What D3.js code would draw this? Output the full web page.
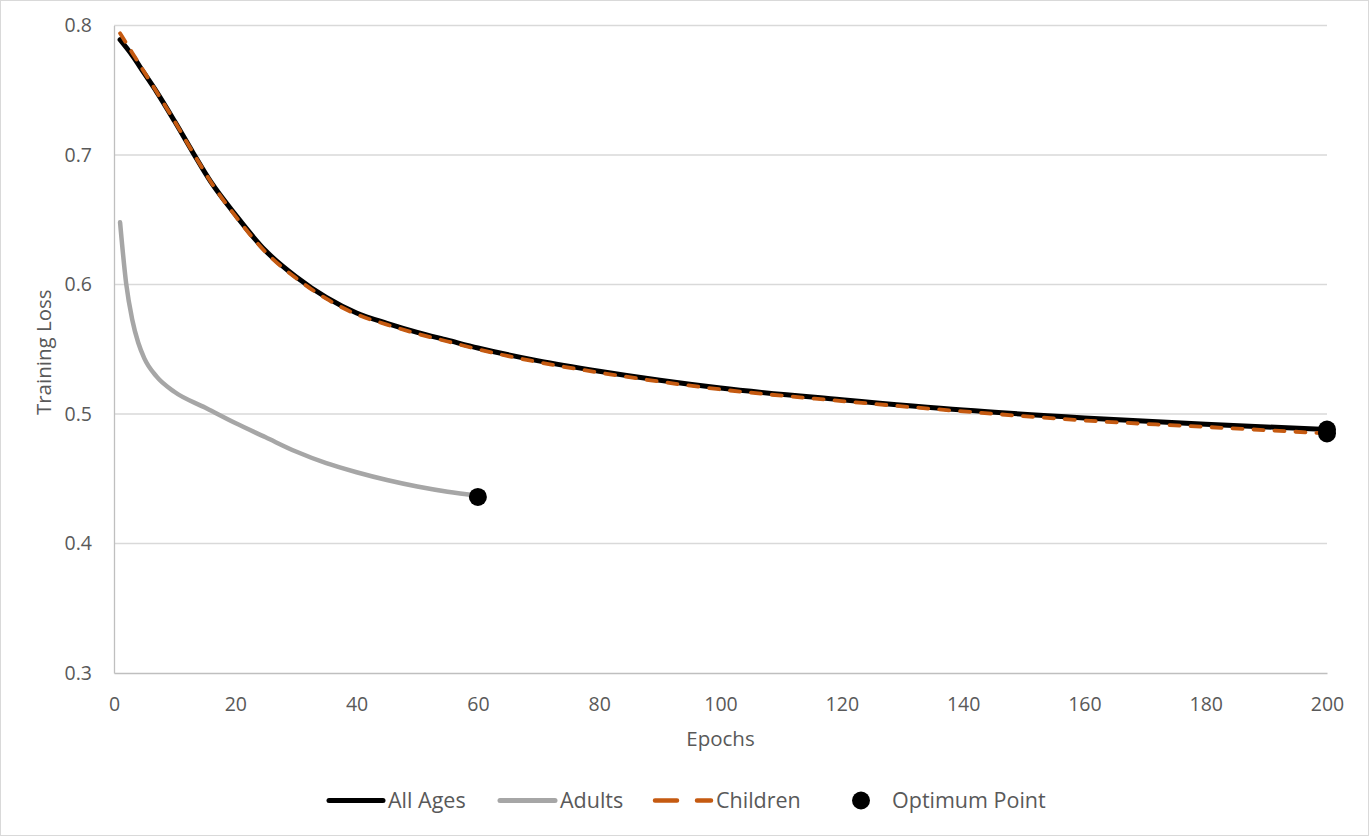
<!DOCTYPE html>
<html>
<head>
<meta charset="utf-8">
<script src="https://cdn.jsdelivr.net/npm/d3@7"></script>
<style>
  html, body { margin: 0; padding: 0; background: #fff; }
  svg { display: block; }
  text { font-family: "Open Sans", Lato, sans-serif; fill: #595959; }
</style>
</head>
<body>
<svg id="chart" width="1369" height="836"></svg>
<script>
// ---- data ----
const allAgesEpochs = [1, 3, 5, 7, 10, 13, 16, 20, 25, 30, 35, 40, 45, 50, 55, 60, 70, 80, 90, 100, 120, 140, 160, 180, 200];
const allAgesLoss   = [0.789, 0.777, 0.763, 0.749, 0.726, 0.702, 0.679, 0.654, 0.626, 0.606, 0.590, 0.578, 0.570, 0.563, 0.557, 0.551, 0.541, 0.533, 0.526, 0.520, 0.511, 0.503, 0.497, 0.492, 0.488];

const childrenEpochs = [1, 3, 5, 7, 10, 13, 16, 20, 25, 30, 35, 40, 45, 50, 55, 60, 70, 80, 90, 100, 120, 140, 160, 180, 200];
const childrenLoss   = [0.794, 0.779, 0.764, 0.749, 0.726, 0.702, 0.679, 0.653, 0.625, 0.605, 0.589, 0.577, 0.569, 0.562, 0.556, 0.550, 0.540, 0.532, 0.525, 0.519, 0.510, 0.502, 0.495, 0.490, 0.485];

const adultsEpochs = [1, 2, 3, 4, 5, 7, 10, 15, 20, 25, 30, 35, 40, 45, 50, 55, 60];
const adultsLoss   = [0.648, 0.601, 0.573, 0.555, 0.543, 0.529, 0.517, 0.505, 0.493, 0.482, 0.471, 0.462, 0.455, 0.449, 0.444, 0.440, 0.437];

const optimumEpochs = [60, 200, 200];
const optimumLoss   = [0.436, 0.488, 0.485];

const xTicks = [0, 20, 40, 60, 80, 100, 120, 140, 160, 180, 200];
const yTicks = [0.3, 0.4, 0.5, 0.6, 0.7, 0.8];

const legendLabels = ["All Ages", "Adults", "Children", "Optimum Point"];

// ---- layout ----
const svg = d3.select("#chart");
const W = 1369, H = 836;
const pLeft = 114, pRight = 1327, pTop = 25.5, pBottom = 673;

svg.append("rect").attr("x", 0.5).attr("y", 0.5).attr("width", W - 1).attr("height", H - 1)
  .attr("fill", "#fff").attr("stroke", "#d9d9d9");

const x = d3.scaleLinear().domain([0, 200]).range([pLeft, pRight]);
const y = d3.scaleLinear().domain([0.3, 0.8]).range([pBottom, pTop]);

// gridlines
svg.append("g").selectAll("line").data(yTicks.filter(d => d > 0.3)).join("line")
  .attr("x1", pLeft).attr("x2", pRight)
  .attr("y1", d => y(d)).attr("y2", d => y(d))
  .attr("stroke", "#d9d9d9").attr("stroke-width", 1.3);

// axes
const yAxis = svg.append("g").attr("transform", `translate(${pLeft},0)`)
  .call(d3.axisLeft(y).tickValues(yTicks).tickFormat(d3.format(".1f")).tickSize(0).tickPadding(22));
yAxis.select(".domain").attr("stroke", "#bfbfbf").attr("stroke-width", 1.3);
yAxis.selectAll("text").attr("font-size", 19.5).attr("font-family", null).style("fill", "#595959");

const xAxis = svg.append("g").attr("transform", `translate(0,${pBottom})`)
  .call(d3.axisBottom(x).tickValues(xTicks).tickFormat(d3.format("d")).tickSize(0));
xAxis.select(".domain").attr("stroke", "#bfbfbf").attr("stroke-width", 1.3);
xAxis.selectAll("text").attr("font-size", 19.5).attr("font-family", null)
  .attr("dy", null).attr("y", 38).style("fill", "#595959");
svg.selectAll(".tick text").attr("font-family", null);
svg.selectAll("g").attr("font-family", null);

// axis titles
svg.append("text").attr("x", (pLeft + pRight) / 2).attr("y", 746)
  .attr("text-anchor", "middle").attr("font-size", 20.5).text("Epochs");
svg.append("text").attr("transform", `translate(51,${(pTop + pBottom) / 2 + 3}) rotate(-90)`)
  .attr("text-anchor", "middle").attr("font-size", 20.5).text("Training Loss");

// lines
const line = d3.line().x(d => x(d[0])).y(d => y(d[1])).curve(d3.curveMonotoneX);
const zip = (a, b) => a.map((v, i) => [v, b[i]]);

svg.append("path").datum(zip(adultsEpochs, adultsLoss)).attr("d", line)
  .attr("fill", "none").attr("stroke", "#a6a6a6").attr("stroke-width", 4.5).attr("stroke-linecap", "round");
svg.append("path").datum(zip(allAgesEpochs, allAgesLoss)).attr("d", line)
  .attr("fill", "none").attr("stroke", "#000").attr("stroke-width", 5).attr("stroke-linecap", "round");
svg.append("path").datum(zip(childrenEpochs, childrenLoss)).attr("d", line)
  .attr("fill", "none").attr("stroke", "#c55a11").attr("stroke-width", 3.8)
  .attr("stroke-dasharray", "10,11").attr("stroke-linecap", "round");

// optimum points
svg.append("g").selectAll("circle").data(zip(optimumEpochs, optimumLoss)).join("circle")
  .attr("cx", d => x(d[0])).attr("cy", d => y(d[1])).attr("r", 9).attr("fill", "#000");

// legend
const ly = 800.5, lty = 807.5, lfs = 21.5;
const lg = svg.append("g");
lg.append("line").attr("x1", 329).attr("x2", 383).attr("y1", ly).attr("y2", ly)
  .attr("stroke", "#000").attr("stroke-width", 5).attr("stroke-linecap", "round");
lg.append("text").attr("x", 388).attr("y", lty).attr("font-size", lfs).text(legendLabels[0]);
lg.append("line").attr("x1", 500).attr("x2", 555).attr("y1", ly).attr("y2", ly)
  .attr("stroke", "#a6a6a6").attr("stroke-width", 5).attr("stroke-linecap", "round");
lg.append("text").attr("x", 560).attr("y", lty).attr("font-size", lfs).text(legendLabels[1]);
lg.append("line").attr("x1", 655).attr("x2", 711).attr("y1", ly).attr("y2", ly)
  .attr("stroke", "#c55a11").attr("stroke-width", 4.5).attr("stroke-dasharray", "22,20").attr("stroke-linecap", "round");
lg.append("text").attr("x", 716).attr("y", lty).attr("font-size", lfs).text(legendLabels[2]);
lg.append("circle").attr("cx", 861).attr("cy", ly).attr("r", 9).attr("fill", "#000");
lg.append("text").attr("x", 892).attr("y", lty).attr("font-size", lfs).text(legendLabels[3]);
</script>
</body>
</html>
